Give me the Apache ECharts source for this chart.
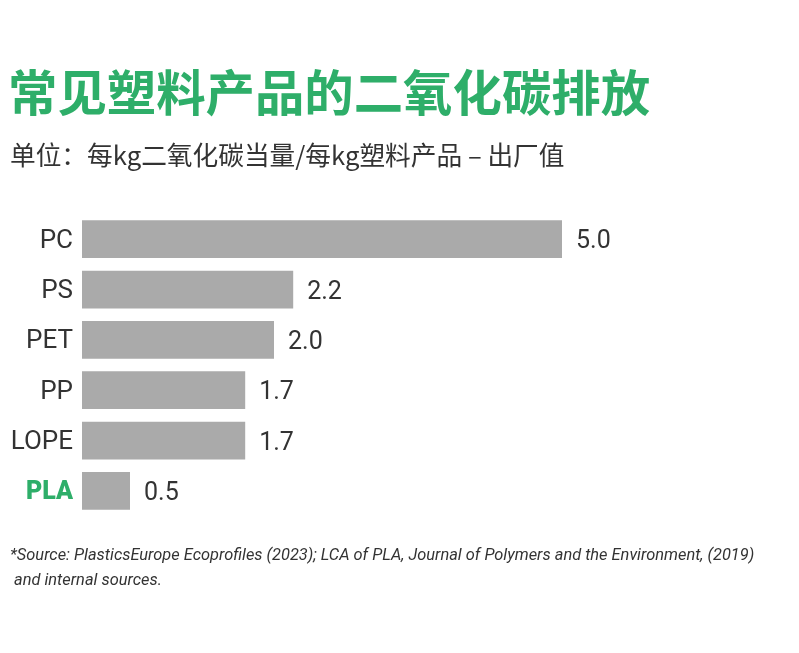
<!DOCTYPE html>
<html><head><meta charset="utf-8">
<script src="https://cdn.jsdelivr.net/npm/echarts@6/dist/echarts.min.js"></script>
<style>html,body{margin:0;padding:0;background:#fff}#c{width:799px;height:653px}</style>
</head><body><div id="c"></div>
<script>
const categories = ['PC', 'PS', 'PET', 'PP', 'LOPE', 'PLA'];
const values = [5.0, 2.2, 2.0, 1.7, 1.7, 0.5];
const valueLabels = ['5.0', '2.2', '2.0', '1.7', '1.7', '0.5'];
const highlight = 'PLA';
const titleText = '常见塑料产品的二氧化碳排放';
const subtitleText = '单位：每kg二氧化碳当量/每kg塑料产品 – 出厂值';
const footLines = ['*Source: PlasticsEurope Ecoprofiles (2023); LCA of PLA, Journal of Polymers and the Environment, (2019)', ' and internal sources.'];

const GREEN = '#2eae69';
const chart = echarts.init(document.getElementById('c'));
chart.setOption({
  backgroundColor: '#fff',
  animation: false,
  title: [
    { text: titleText, left: 3, top: 63, textStyle: { color: GREEN, fontSize: 49.4, fontWeight: 'bold', fontFamily: 'Noto Sans CJK SC' } },
    { text: subtitleText, left: 5, top: 137, textStyle: { color: '#333', fontSize: 25.7, fontWeight: 'normal', fontFamily: 'Noto Sans CJK SC' } }
  ],
  graphic: [
    { type: 'text', left: 10, top: 543, style: { text: footLines.join('\n'), fill: '#333', font: 'italic 16.4px Roboto', lineHeight: 25 } }
  ],
  grid: { left: 82, top: 214, height: 302, width: 576 },
  xAxis: { type: 'value', min: 0, max: 6, show: false },
  yAxis: {
    type: 'category', data: categories, inverse: true,
    axisLine: { show: false }, axisTick: { show: false },
    axisLabel: {
      margin: 9, color: '#333', fontSize: 26, fontFamily: 'Roboto', padding: [4, 0, 0, 0],
      formatter: v => v === highlight ? '{h|' + v + '}' : v,
      rich: { h: { color: GREEN, fontSize: 25, fontWeight: 900, fontFamily: 'Roboto' } }
    }
  },
  series: [{
    type: 'bar', data: values, barWidth: '75%',
    itemStyle: { color: '#aaaaaa' },
    label: { show: true, position: 'right', distance: 14, offset: [0, 3], color: '#333', fontSize: 25, fontFamily: 'Roboto',
      formatter: p => valueLabels[p.dataIndex] }
  }]
});
</script></body></html>
